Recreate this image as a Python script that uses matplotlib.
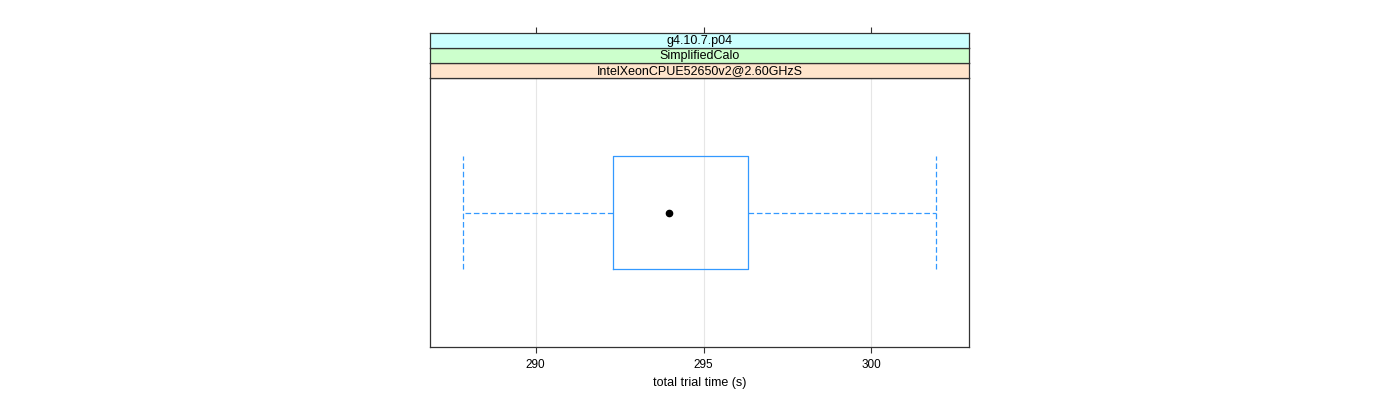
import matplotlib
matplotlib.use("Agg")
import matplotlib.pyplot as plt

plt.rcParams['font.family'] = ['Liberation Sans', 'DejaVu Sans']

# Data
strip_labels = ["IntelXeonCPUE52650v2@2.60GHzS", "SimplifiedCalo", "g4.10.7.p04"]
strip_colors = ["#ffe5cc", "#ccffcc", "#ccffff"]
whisker_low = 287.83
q1 = 292.31
median = 293.98
q3 = 296.32
whisker_high = 301.93
x_ticks = [290, 295, 300]
x_label = "total trial time (s)"

W, H = 1400, 400
fig = plt.figure(figsize=(W / 100, H / 100), dpi=100)
px_l, px_r, px_t, px_b = 430, 969, 78, 347
ax = fig.add_axes([px_l / W, 1 - px_b / H, (px_r - px_l) / W, (px_b - px_t) / H])

blue = "#3399ff"
stats = [dict(med=median, q1=q1, q3=q3, whislo=whisker_low, whishi=whisker_high, fliers=[])]
ax.bxp(stats, positions=[1], vert=False, widths=0.5, showcaps=False,
       boxprops=dict(color=blue, linewidth=0.9),
       whiskerprops=dict(color=blue, linewidth=0.9, linestyle=(0, (4.5, 2.2))),
       medianprops=dict(linewidth=0), manage_ticks=False)
# whisker end lines (full box height, dashed)
for xv in [whisker_low, whisker_high]:
    ax.plot([xv, xv], [0.75, 1.25], color=blue, linewidth=0.9, linestyle=(0, (4.5, 2.2)))
ax.plot([median], [1], 'o', color='black', markersize=4.5)

ax.set_xlim(286.85, 302.91)
ax.set_ylim(0.4, 1.6)
ax.set_yticks([])
for xt in x_ticks:
    ax.axvline(xt, color='#e6e6e6', linewidth=0.8, zorder=0)
ax.set_xticks(x_ticks)
ax.set_xticklabels([str(t) for t in x_ticks], fontsize=8.5)
ax.tick_params(axis='x', direction='out', length=4, width=0.8, color='#333333', pad=5)
for s in ax.spines.values():
    s.set_color('#333333')
    s.set_linewidth(0.9)
ax.set_xlabel(x_label, fontsize=9, labelpad=4)

# strips
strip_h = 15
for i, (lab, col) in enumerate(zip(strip_labels, strip_colors)):
    bottom = px_t - i * strip_h
    sax = fig.add_axes([px_l / W, 1 - bottom / H, (px_r - px_l) / W, strip_h / H])
    sax.set_facecolor(col)
    sax.set_xticks([]); sax.set_yticks([])
    for s in sax.spines.values():
        s.set_color('#333333'); s.set_linewidth(0.9)
    sax.text(0.5, 0.45, lab, ha='center', va='center', fontsize=9, transform=sax.transAxes)
    if i == len(strip_labels) - 1:
        sax.set_xlim(ax.get_xlim())
        sax.set_xticks(x_ticks)
        sax.tick_params(axis='x', which='both', bottom=False, labelbottom=False,
                        top=True, labeltop=False, direction='out', length=4,
                        width=0.8, color='#333333')

fig.savefig("out.png", dpi=100)
